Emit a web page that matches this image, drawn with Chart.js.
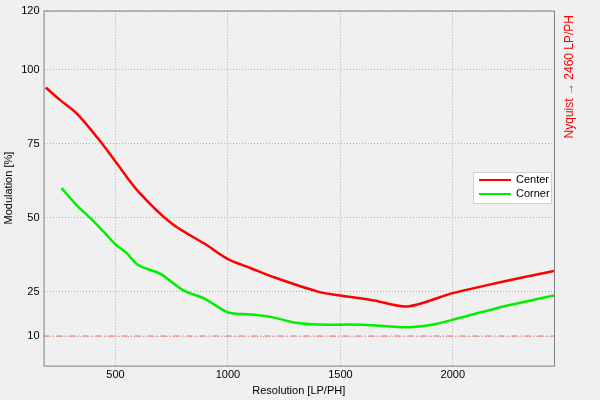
<!DOCTYPE html>
<html>
<head>
<script src="https://cdn.jsdelivr.net/npm/chart.js@4"></script>
<style>
body{margin:0;background:#f0f0f0;}
#wrap{width:600px;height:400px;}
</style>
</head>
<body>
<div id="wrap"><canvas id="myChart" width="600" height="400"></canvas></div>
<script>
var centerX = [190, 250, 330, 420, 500, 600, 750, 900, 1000, 1100, 1200, 1400, 1500, 1650, 1800, 2000, 2200, 2450];
var centerY = [94, 90, 85, 77, 69, 59, 48, 41, 36, 33, 30, 25, 23.7, 22, 20, 24.5, 28, 32];
var cornerX = [260, 330, 400, 450, 500, 550, 600, 700, 800, 900, 1000, 1100, 1200, 1300, 1400, 1600, 1800, 1900, 2000, 2200, 2450];
var cornerY = [60, 54, 49, 45, 41, 38, 34, 31, 25.5, 22.5, 18, 17.3, 16.3, 14.5, 13.9, 13.8, 13, 13.7, 15.5, 19.5, 23.7];
var xTicks = [500, 1000, 1500, 2000];
var yTicks = [10, 25, 50, 75, 100, 120];
var limitY = 10;
var xMin = 180, xMax = 2450;

function pts(xs, ys){
    return xs.map((x,i) => ({x:x, y:ys[i]}));
}

const extras = {
    id:"extras",
    afterDraw(chart){
        const ctx = chart.ctx, a = chart.chartArea;
        ctx.save();
        ctx.strokeStyle = "#808080";
        ctx.lineWidth = 1;
        ctx.strokeRect(a.left+0.5, a.top+0.5, a.right-a.left, a.bottom-a.top);
        // legend
        const lx = 473, ly = 172, lw = 78, lh = 31;
        ctx.fillStyle = "#ffffff";
        ctx.fillRect(lx, ly, lw, lh);
        ctx.strokeStyle = "#d0d0d0";
        ctx.strokeRect(lx+0.5, ly+0.5, lw, lh);
        ctx.font = "11px 'Liberation Sans'";
        ctx.textBaseline = "middle";
        [["Center","#ff0000"],["Corner","#00ee00"]].forEach((e,i)=>{
            const y = ly + 8 + i*14;
            ctx.strokeStyle = e[1];
            ctx.lineWidth = 2;
            ctx.beginPath(); ctx.moveTo(lx+6, y); ctx.lineTo(lx+38, y); ctx.stroke();
            ctx.fillStyle = "#000";
            ctx.fillText(e[0], lx+43, y);
        });
        // nyquist note
        ctx.translate(570, 15);
        ctx.rotate(-Math.PI/2);
        ctx.fillStyle = "#ff0000";
        ctx.font = "12px 'Liberation Sans'";
        ctx.textAlign = "right";
        ctx.fillText("Nyquist \u2192 2460 LP/PH", 0, 0);
        ctx.restore();
    }
};

new Chart(document.getElementById("myChart").getContext("2d"), {
    type:"line",
    data:{
        datasets:[
            {label:"Center", data:pts(centerX, centerY), borderColor:"#ff0000", borderWidth:2.5, pointRadius:0, tension:0.3},
            {label:"Corner", data:pts(cornerX, cornerY), borderColor:"#00ee00", borderWidth:2.5, pointRadius:0, tension:0.3},
            {label:"limit", data:[{x:xMin,y:limitY},{x:xMax,y:limitY}], borderColor:"#ff6060", borderWidth:1, borderDash:[6,3,1,3], pointRadius:0}
        ]
    },
    options:{
        responsive:false,
        animation:false,
        layout:{padding:{left:2, right:46, top:3, bottom:0}},
        plugins:{legend:{display:false}, tooltip:{enabled:false}},
        scales:{
            x:{
                type:"linear", min:xMin, max:xMax,
                afterBuildTicks: ax => { ax.ticks = xTicks.map(v => ({value:v})); },
                grid:{color:"#b0b0b0", drawTicks:false},
                border:{display:false, dash:[1,2]},
                ticks:{color:"#000", font:{family:"Liberation Sans", size:11}, padding:3, callback: v => String(v)},
                title:{display:true, text:"Resolution [LP/PH]", color:"#000", font:{family:"Liberation Sans", size:11}, padding:{top:0, bottom:2}}
            },
            y:{
                min:0, max:120,
                afterBuildTicks: ax => { ax.ticks = yTicks.map(v => ({value:v})); },
                grid:{color:"#b0b0b0", drawTicks:false},
                border:{display:false, dash:[1,2]},
                ticks:{color:"#000", font:{family:"Liberation Sans", size:11}, padding:4},
                title:{display:true, text:"Modulation [%]", color:"#000", font:{family:"Liberation Sans", size:11}, padding:{top:0, bottom:2}}
            }
        }
    },
    plugins:[extras]
});
</script>
</body>
</html>
